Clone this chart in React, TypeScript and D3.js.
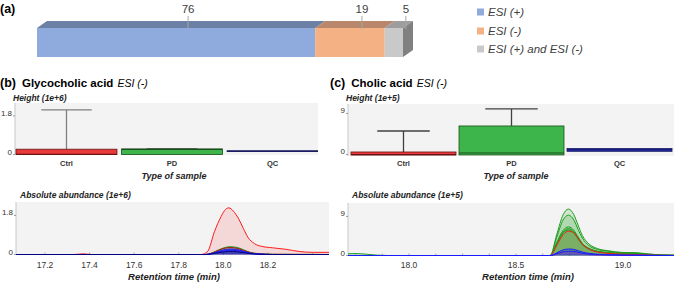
import React from "react";
import * as d3 from "d3";

// ---------- (a) composition ----------
const compositionLabels = ["ESI (+)", "ESI (-)", "ESI (+) and ESI (-)"];
const compositionValues = [76, 19, 5];

// ---------- box plots ----------
const sampleTypes = ["Ctrl", "PD", "QC"];
// Glycocholic acid, Height (1e+6)
const glycoLow = [0, 0, 0.15];
const glycoQ1 = [0, 0, 0.15];
const glycoMedian = [0.01, 0.24, 0.16];
const glycoQ3 = [0.25, 0.26, 0.17];
const glycoHigh = [2.08, 0.28, 0.17];
const glycoBoxTicks = [0, 1.8];
// Cholic acid, Height (1e+5)
const cholicLow = [-0.1, -0.1, 0.7];
const cholicQ1 = [-0.1, -0.1, 0.7];
const cholicMedian = [-0.05, 0.33, 1.0];
const cholicQ3 = [0.55, 6.26, 1.3];
const cholicHigh = [5.16, 9.99, 1.3];
const cholicBoxTicks = [0, 9];

// ---------- chromatograms ----------
// Glycocholic acid, Absolute abundance (1e+6)
const glycoTimeTicks = [17.2, 17.4, 17.6, 17.8, 18.0, 18.2];
const glycoTimeMinor = [17.2, 17.4, 17.6, 17.8, 18.0, 18.2, 18.4];
const glycoAbundTicks = [0, 1.8];
const glycoRedRt = [17.07, 17.33, 17.37, 17.41, 17.9, 17.93, 17.96, 17.99, 18.01, 18.025, 18.045, 18.07, 18.09, 18.11, 18.14, 18.17, 18.22, 18.28, 18.34, 18.4, 18.474];
const glycoRed = [0, 0, 0.03, 0, 0, 0.15, 1.05, 1.75, 2.08, 2.15, 2.0, 1.62, 1.2, 0.8, 0.5, 0.38, 0.31, 0.24, 0.14, 0.1, 0.1];
const glycoMinorRt = [17.07, 17.92, 17.95, 17.98, 18.01, 18.03, 18.06, 18.09, 18.12, 18.16, 18.22, 18.474];
const glycoGreen = [0, 0, 0.08, 0.22, 0.33, 0.36, 0.33, 0.22, 0.1, 0.04, 0.01, 0];
const glycoDarkRed = [0, 0, 0.07, 0.2, 0.3, 0.32, 0.29, 0.19, 0.09, 0.03, 0.01, 0];
const glycoBlue = [0, 0, 0.05, 0.15, 0.23, 0.25, 0.23, 0.15, 0.07, 0.02, 0, 0];
const glycoBlue2 = [0, 0, 0.04, 0.12, 0.18, 0.2, 0.18, 0.12, 0.05, 0.02, 0, 0];
const glycoNavy = [0, 0, 0.03, 0.09, 0.13, 0.15, 0.13, 0.09, 0.04, 0.01, 0, 0];

// Cholic acid, Absolute abundance (1e+5)
const cholicTimeTicks = [18.0, 18.5, 19.0];
const cholicTimeMinor = [17.75, 17.875, 18.0, 18.125, 18.25, 18.375, 18.5, 18.625, 18.75, 18.875, 19.0, 19.125];
const cholicAbundTicks = [0, 9];
const cholicRt = [17.715, 17.75, 17.8, 17.85, 17.9, 18.62, 18.66, 18.69, 18.72, 18.745, 18.77, 18.79, 18.81, 18.84, 18.88, 18.93, 19.0, 19.06, 19.12, 19.18, 19.238];
const cholicGreen1 = [0.4, 0.45, 0.3, 0.08, 0, 0, 0, 4.8, 9.4, 10.7, 9.4, 7.0, 4.6, 2.7, 1.6, 1.1, 0.7, 0.65, 0.35, 0.12, 0.05];
const cholicGreen2 = [0, 0, 0, 0, 0, 0, 0, 4.2, 8.2, 9.3, 8.2, 6.0, 4.0, 2.3, 1.4, 1.0, 0.6, 0.55, 0.3, 0.1, 0.04];
const cholicGreen3 = [0, 0, 0, 0, 0, 0, 0, 3.0, 5.8, 6.6, 5.8, 4.3, 2.8, 1.7, 1.0, 0.7, 0.45, 0.4, 0.2, 0.08, 0.03];
const cholicGreen4 = [0, 0, 0, 0, 0, 0, 0, 2.8, 5.4, 6.2, 5.5, 4.0, 2.7, 1.6, 0.95, 0.65, 0.4, 0.35, 0.2, 0.07, 0.03];
const cholicGreen5 = [0, 0, 0, 0, 0, 0, 0, 2.6, 5.2, 5.9, 5.2, 3.8, 2.5, 1.5, 0.9, 0.6, 0.4, 0.35, 0.18, 0.06, 0.02];
const cholicRed = [0, 0, 0, 0, 0, 0, 0, 2.3, 4.8, 5.6, 5.2, 4.0, 2.6, 1.5, 0.8, 0.5, 0.3, 0.2, 0.1, 0.04, 0.02];
const cholicPurple = [0, 0, 0, 0, 0, 0, 0, 0.25, 0.5, 0.6, 0.55, 0.45, 0.3, 0.18, 0.1, 0.06, 0.03, 0.02, 0, 0, 0];
const cholicBlue1 = [0, 0, 0, 0, 0, 0, 0, 0.6, 1.3, 1.5, 1.4, 1.1, 0.8, 0.5, 0.3, 0.2, 0.1, 0.08, 0.04, 0.02, 0];
const cholicBlue2 = [0, 0, 0, 0, 0, 0, 0, 0.4, 0.85, 1.0, 0.95, 0.75, 0.5, 0.3, 0.2, 0.12, 0.06, 0.05, 0.02, 0, 0];

const FONT = "'Liberation Sans', Arial, sans-serif";
const TXT = "#333";

function CompositionBar() {
  const total = d3.sum(compositionValues);
  const x = d3.scaleLinear().domain([0, total]).range([37, 403]);
  const ends = Array.from(d3.cumsum(compositionValues));
  const starts = ends.map((e, i) => e - compositionValues[i]);
  const top = 28, bottom = 57, dx = 10, dy = 7;
  const front = ["#8FAADC", "#F4B183", "#C9C9C9"];
  const topC = ["#6C80A6", "#B9876B", "#9D9D9D"];
  const last = compositionValues.length - 1;
  const legendY = [12, 31, 49];
  return (
    <g>
      <text x={0} y={13} fontFamily={FONT} fontWeight="bold" fontSize={12.5} fill="#000">(a)</text>
      {compositionValues.map((v, i) => {
        const x0 = x(starts[i]);
        const x1 = x(ends[i]);
        return (
          <g key={i}>
            <rect x={x0} y={top} width={x1 - x0} height={bottom - top} fill={front[i]} />
            <polygon points={`${x0},${top} ${x0 + dx},${top - dy} ${x1 + dx},${top - dy} ${x1},${top}`} fill={topC[i]} />
          </g>
        );
      })}
      <polygon
        points={`${x(ends[last])},${top} ${x(ends[last]) + dx},${top - dy} ${x(ends[last]) + dx},${bottom - dy} ${x(ends[last])},${bottom}`}
        fill="#808080"
      />
      {compositionValues.map((v, i) => {
        const cx = (x(starts[i]) + x(ends[i])) / 2 + 12;
        return (
          <g key={"l" + i}>
            <line x1={cx} x2={cx} y1={16} y2={29} stroke="#A6A6A6" strokeWidth={1} />
            <text x={cx} y={13} textAnchor="middle" fontFamily={FONT} fontSize={11.5} fill="#404040">{v}</text>
          </g>
        );
      })}
      {compositionLabels.map((lab, i) => (
        <g key={"g" + i}>
          <rect x={477} y={legendY[i] - 3.5} width={7} height={7} fill={front[i]} />
          <text x={488} y={legendY[i] + 4} fontFamily={FONT} fontStyle="italic" fontSize={11.5} fill="#404040">{lab}</text>
        </g>
      ))}
    </g>
  );
}

function Title({ x, tag, name }: { x: number; tag: string; name: string }) {
  return (
    <text x={x} y={87} fontFamily={FONT} fontSize={11.5} fill="#000">
      <tspan fontWeight="bold" fontSize={12.5}>{tag}</tspan>
      <tspan dx={6} fontWeight="bold">{name}</tspan>
      <tspan dx={4} fontStyle="italic" fontSize={10.5}>ESI (-)</tspan>
    </text>
  );
}

type BoxProps = {
  id: string;
  left: number; right: number; top: number; bottom: number;
  bandRange: [number, number]; padInner: number;
  yDomain: [number, number]; ticks: number[]; unit: string;
  low: number[]; q1: number[]; med: number[]; q3: number[]; high: number[];
  whisker: string; typeX: number;
};

function BoxPanel(p: BoxProps) {
  const x = d3.scaleBand().domain(sampleTypes).range(p.bandRange).paddingInner(p.padInner).paddingOuter(0);
  const y = d3.scaleLinear().domain(p.yDomain).range([p.bottom, p.top]);
  const fills = ["#E8393B", "#3DB54A", "#2B3BDF"];
  const strokes = ["#6B1212", "#1B4D1B", "#14145A"];
  const bw = x.bandwidth();
  return (
    <g>
      <defs>
        <clipPath id={p.id}>
          <rect x={p.left} y={p.top} width={p.right - p.left} height={p.bottom - p.top} />
        </clipPath>
      </defs>
      <text x={p.left - 2} y={101} fontFamily={FONT} fontWeight="bold" fontStyle="italic" fontSize={8.5} fill="#222">{`Height (${p.unit})`}</text>
      <rect x={p.left} y={p.top} width={p.right - p.left} height={p.bottom - p.top} fill="#F3F3F3" />
      <line x1={p.left} x2={p.left} y1={p.top} y2={p.bottom} stroke="#C8C8C8" />
      {p.ticks.map((t) => (
        <g key={t}>
          <line x1={p.left - 2} x2={p.left} y1={y(t)} y2={y(t)} stroke="#999" />
          <text x={p.left - 3} y={y(t)} textAnchor="end" fontFamily={FONT} fontSize={8} fill={TXT}>{t}</text>
        </g>
      ))}
      <g clipPath={`url(#${p.id})`}>
        {sampleTypes.map((s, i) => {
          const x0 = x(s)!;
          const cx = x0 + bw / 2;
          return (
            <g key={s}>
              {p.high[i] > p.q3[i] && (
                <g stroke={p.whisker} strokeWidth={1.3}>
                  <line x1={cx} x2={cx} y1={y(p.q3[i])} y2={y(p.high[i])} />
                  <line x1={cx - bw / 4} x2={cx + bw / 4} y1={y(p.high[i])} y2={y(p.high[i])} />
                </g>
              )}
              {p.low[i] < p.q1[i] && (
                <g stroke={p.whisker} strokeWidth={1.3}>
                  <line x1={cx} x2={cx} y1={y(p.q1[i])} y2={y(p.low[i])} />
                  <line x1={cx - bw / 4} x2={cx + bw / 4} y1={y(p.low[i])} y2={y(p.low[i])} />
                </g>
              )}
              <rect x={x0} y={y(p.q3[i])} width={bw} height={Math.max(0.5, y(p.q1[i]) - y(p.q3[i]))} fill={fills[i]} stroke={strokes[i]} strokeWidth={0.8} />
              <line x1={x0} x2={x0 + bw} y1={y(p.med[i])} y2={y(p.med[i])} stroke={strokes[i]} strokeWidth={1.2} />
            </g>
          );
        })}
      </g>
      {sampleTypes.map((s) => {
        const x0 = Math.max(p.left, x(s)!);
        const x1 = Math.min(p.right, x(s)! + bw);
        return (
          <text key={s} x={(x0 + x1) / 2} y={166} textAnchor="middle" fontFamily={FONT} fontWeight="bold" fontSize={7.5} fill={TXT}>{s}</text>
        );
      })}
      <text x={p.typeX} y={179} textAnchor="middle" fontFamily={FONT} fontWeight="bold" fontStyle="italic" fontSize={9} fill="#222">Type of sample</text>
    </g>
  );
}

type Trace = { rt: number[]; v: number[]; stroke: string; fill: string };

type ChromProps = {
  id: string;
  left: number; right: number; top: number; bottom: number;
  xDomain: [number, number]; yDomain: [number, number];
  xTicks: number[]; xMinor: number[]; yTicks: number[]; unit: string;
  traces: Trace[]; retX: number; fmt: (n: number) => string;
};

function ChromPanel(p: ChromProps) {
  const x = d3.scaleLinear().domain(p.xDomain).range([p.left, p.right]);
  const y = d3.scaleLinear().domain(p.yDomain).range([p.bottom, p.top]);
  const lineGen = d3.line<[number, number]>().x((d) => x(d[0])).y((d) => y(d[1])).curve(d3.curveMonotoneX);
  const areaGen = d3.area<[number, number]>().x((d) => x(d[0])).y0(y(0)).y1((d) => y(d[1])).curve(d3.curveMonotoneX);
  return (
    <g>
      <defs>
        <clipPath id={p.id}>
          <rect x={p.left} y={p.top} width={p.right - p.left} height={p.bottom - p.top + 1} />
        </clipPath>
      </defs>
      <text x={p.left + 4} y={198} fontFamily={FONT} fontWeight="bold" fontStyle="italic" fontSize={8.5} fill="#222">{`Absolute abundance (${p.unit})`}</text>
      <rect x={p.left} y={p.top} width={p.right - p.left} height={p.bottom - p.top} fill="#F3F3F3" />
      <line x1={p.left} x2={p.left} y1={p.top} y2={p.bottom} stroke="#C8C8C8" />
      {p.yTicks.map((t) => (
        <g key={t}>
          <line x1={p.left - 2} x2={p.left} y1={y(t)} y2={y(t)} stroke="#999" />
          <text x={p.left - 3} y={y(t)} textAnchor="end" fontFamily={FONT} fontSize={8} fill={TXT}>{t}</text>
        </g>
      ))}
      {p.xMinor.map((t) => (
        <line key={t} x1={x(t)} x2={x(t)} y1={p.bottom} y2={p.bottom - 2.5} stroke="#AAA" />
      ))}
      {p.xTicks.map((t) => (
        <text key={t} x={x(t)} y={268} textAnchor="middle" fontFamily={FONT} fontSize={8.5} fill={TXT}>{p.fmt(t)}</text>
      ))}
      <g clipPath={`url(#${p.id})`}>
        {p.traces.map((tr, i) => {
          const pts = tr.rt.map((r, j) => [r, tr.v[j]] as [number, number]);
          return <path key={"a" + i} d={areaGen(pts) || ""} fill={tr.fill} />;
        })}
        {p.traces.map((tr, i) => {
          const pts = tr.rt.map((r, j) => [r, tr.v[j]] as [number, number]);
          return <path key={"l" + i} d={lineGen(pts) || ""} fill="none" stroke={tr.stroke} strokeWidth={1} />;
        })}
      </g>
      <text x={p.retX} y={280} textAnchor="middle" fontFamily={FONT} fontWeight="bold" fontStyle="italic" fontSize={9.5} fill="#222">Retention time (min)</text>
    </g>
  );
}

const GREEN = "#1E9E1E";
const GREEN_FILL = "rgba(30,160,30,0.17)";
const RED = "#FF1A1A";
const BLUE = "#1A1AFF";

export default function App() {
  const glycoTraces: Trace[] = [
    { rt: glycoRedRt, v: glycoRed, stroke: RED, fill: "rgba(255,40,40,0.13)" },
    { rt: glycoMinorRt, v: glycoGreen, stroke: GREEN, fill: "rgba(30,160,30,0.35)" },
    { rt: glycoMinorRt, v: glycoDarkRed, stroke: "#B01010", fill: "rgba(160,20,20,0.2)" },
    { rt: glycoMinorRt, v: glycoBlue, stroke: BLUE, fill: "rgba(30,30,255,0.35)" },
    { rt: glycoMinorRt, v: glycoBlue2, stroke: BLUE, fill: "rgba(30,30,255,0.3)" },
    { rt: glycoMinorRt, v: glycoNavy, stroke: "#000080", fill: "rgba(0,0,128,0.3)" },
  ];
  const cholicTraces: Trace[] = [
    { rt: cholicRt, v: cholicGreen1, stroke: GREEN, fill: GREEN_FILL },
    { rt: cholicRt, v: cholicGreen2, stroke: GREEN, fill: GREEN_FILL },
    { rt: cholicRt, v: cholicGreen3, stroke: GREEN, fill: GREEN_FILL },
    { rt: cholicRt, v: cholicGreen4, stroke: GREEN, fill: GREEN_FILL },
    { rt: cholicRt, v: cholicGreen5, stroke: GREEN, fill: GREEN_FILL },
    { rt: cholicRt, v: cholicRed, stroke: RED, fill: "rgba(200,60,20,0.12)" },
    { rt: cholicRt, v: cholicPurple, stroke: "#8050A0", fill: "rgba(128,80,160,0.25)" },
    { rt: cholicRt, v: cholicBlue1, stroke: BLUE, fill: "rgba(30,30,255,0.3)" },
    { rt: cholicRt, v: cholicBlue2, stroke: BLUE, fill: "rgba(30,30,255,0.3)" },
  ];
  return (
    <svg width={676} height={283} style={{ position: "absolute", left: 0, top: 0, background: "#fff" }}>
      <rect x={0} y={0} width={676} height={283} fill="#fff" />
      <CompositionBar />
      <Title x={0} tag="(b)" name="Glycocholic acid" />
      <Title x={330} tag="(c)" name="Cholic acid" />
      <BoxPanel
        id="clipB" left={15} right={318} top={103} bottom={155}
        bandRange={[16, 328]} padInner={0.043}
        yDomain={[-0.02, 2.4]} ticks={glycoBoxTicks} unit="1e+6"
        low={glycoLow} q1={glycoQ1} med={glycoMedian} q3={glycoQ3} high={glycoHigh}
        whisker="#808080" typeX={174}
      />
      <BoxPanel
        id="clipC" left={348} right={674} top={104} bottom={156}
        bandRange={[351, 672]} padInner={0.028}
        yDomain={[-0.33, 11.08]} ticks={cholicBoxTicks} unit="1e+5"
        low={cholicLow} q1={cholicQ1} med={cholicMedian} q3={cholicQ3} high={cholicHigh}
        whisker="#404040" typeX={516}
      />
      <ChromPanel
        id="clipBC" left={16} right={329} top={202} bottom={255}
        xDomain={[17.07, 18.474]} yDomain={[-0.023, 2.42]}
        xTicks={glycoTimeTicks} xMinor={glycoTimeMinor} yTicks={glycoAbundTicks} unit="1e+6"
        traces={glycoTraces} retX={174} fmt={(n) => n.toFixed(1)}
      />
      <ChromPanel
        id="clipCC" left={348} right={674} top={203} bottom={256}
        xDomain={[17.715, 19.238]} yDomain={[-0.115, 12.1]}
        xTicks={cholicTimeTicks} xMinor={cholicTimeMinor} yTicks={cholicAbundTicks} unit="1e+5"
        traces={cholicTraces} retX={528} fmt={(n) => n.toFixed(1)}
      />
    </svg>
  );
}
